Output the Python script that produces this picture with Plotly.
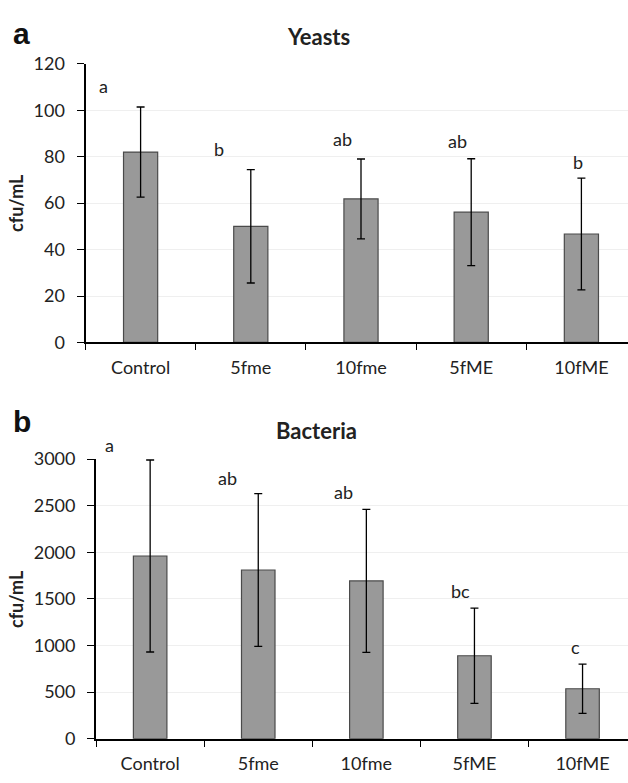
import plotly.graph_objects as go

# ---- data ----
categories = ["Control", "5fme", "10fme", "5fME", "10fME"]

yeast_mean = [82, 50, 61.8, 56.1, 46.7]
yeast_sd = [19.4, 24.4, 17.2, 23.0, 24.1]
yeast_letters = ["a", "b", "ab", "ab", "b"]

bact_mean = [1960, 1810, 1693, 890, 536]
bact_sd = [1030, 820, 767, 510, 265]
bact_letters = ["a", "ab", "ab", "bc", "c"]

yeast_ticks = [0, 20, 40, 60, 80, 100, 120]
bact_ticks = [0, 500, 1000, 1500, 2000, 2500, 3000]

# ---- layout helpers ----
W, H = 628, 783
FONT = "Lato"
TXT = "#222222"
TICK_SIZE = 18

# letter label placement (pixel shifts relative to error-bar top)
yeast_lab_dx = [-37, -32, -19, -14, -3]
yeast_lab_dy = [21, 21, 20, 18, 16]
bact_lab_dx = [-41, -31, -23, -14, -7]
bact_lab_dy = [15, 16, 17, 17, 17]

fig = go.Figure()

def add_bars(mean, sd, xa, ya):
    fig.add_trace(go.Bar(
        x=categories, y=mean, width=0.31,
        marker=dict(color="#999999", line=dict(color="#4a4a4a", width=1.2)),
        error_y=dict(type="data", array=sd, visible=True, color="black",
                     thickness=1.3, width=4),
        xaxis=xa, yaxis=ya, showlegend=False, hoverinfo="skip"))

add_bars(yeast_mean, yeast_sd, "x", "y")
add_bars(bact_mean, bact_sd, "x2", "y2")

top_left, bot_left = 85.5, 96.1
top_cat, bot_cat = 110.2, 108.1

xcommon = dict(type="category", showline=True, linecolor="black", linewidth=2,
               ticks="outside", tickson="boundaries", ticklen=6, tickwidth=1.3,
               tickcolor="black", showgrid=False, zeroline=False,
               tickfont=dict(family=FONT, size=TICK_SIZE, color=TXT),
               ticklabelstandoff=8, fixedrange=True)
ycommon = dict(showline=True, linecolor="black", linewidth=2, ticks="outside",
               ticklen=7, tickwidth=1.3, tickcolor="black", showgrid=True,
               gridcolor="#efefef", gridwidth=1, zeroline=False,
               tickfont=dict(family=FONT, size=TICK_SIZE, color=TXT),
               ticklabelstandoff=8)

fig.update_layout(
    width=W, height=H,
    margin=dict(l=0, r=0, t=0, b=0),
    paper_bgcolor="white", plot_bgcolor="white",
    bargap=0.69, showlegend=False,
    xaxis=dict(domain=[top_left / W, 1], anchor="y",
               range=[-0.5, -0.5 + (W - top_left) / top_cat],
               categoryorder="array", categoryarray=categories, **xcommon),
    yaxis=dict(domain=[1 - 340 / H, 1 - 53.3 / H], anchor="x",
               range=[0, 120], tickvals=yeast_ticks, **ycommon),
    xaxis2=dict(domain=[bot_left / W, 1], anchor="y2",
                range=[-0.5, -0.5 + (W - bot_left) / bot_cat],
                categoryorder="array", categoryarray=categories, **xcommon),
    yaxis2=dict(domain=[1 - 747.7 / H, 1 - 460 / H], anchor="x2",
                range=[0, 3000], tickvals=bact_ticks, **ycommon),
)

ann = []
# panel letters
ann.append(dict(text="<b>a</b>", x=21 / W, y=1 - 22 / H, xref="paper", yref="paper",
                showarrow=False, font=dict(family="Liberation Sans", size=30, color="#111111"),
                xanchor="center", yanchor="middle"))
ann.append(dict(text="<b>b</b>", x=22 / W, y=1 - 421 / H, xref="paper", yref="paper",
                showarrow=False, font=dict(family="Liberation Sans", size=30, color="#111111"),
                xanchor="center", yanchor="middle"))
# titles
ann.append(dict(text="<b>Yeasts</b>", x=318.5 / W, y=1 - 25 / H, xref="paper", yref="paper",
                showarrow=False, font=dict(family=FONT, size=22, color=TXT),
                xanchor="center", yanchor="middle"))
ann.append(dict(text="<b>Bacteria</b>", x=316 / W, y=1 - 430.5 / H, xref="paper", yref="paper",
                showarrow=False, font=dict(family=FONT, size=22, color=TXT),
                xanchor="center", yanchor="middle"))
# y titles
for yc in (196.5, 604):
    ann.append(dict(text="<b>cfu/mL</b>", x=16 / W, y=1 - yc / H, xref="paper", yref="paper",
                    showarrow=False, textangle=-90,
                    font=dict(family=FONT, size=18, color=TXT),
                    xanchor="center", yanchor="middle"))
# significance letters
for cat, m, s, lab, dx, dy in zip(categories, yeast_mean, yeast_sd, yeast_letters,
                                  yeast_lab_dx, yeast_lab_dy):
    ann.append(dict(text=lab, x=cat, y=m + s, xref="x", yref="y", showarrow=False,
                    xshift=dx, yshift=dy, xanchor="center", yanchor="middle",
                    font=dict(family=FONT, size=TICK_SIZE, color=TXT)))
for cat, m, s, lab, dx, dy in zip(categories, bact_mean, bact_sd, bact_letters,
                                  bact_lab_dx, bact_lab_dy):
    ann.append(dict(text=lab, x=cat, y=m + s, xref="x2", yref="y2", showarrow=False,
                    xshift=dx, yshift=dy, xanchor="center", yanchor="middle",
                    font=dict(family=FONT, size=TICK_SIZE, color=TXT)))

fig.update_layout(annotations=ann)
fig.write_html("out.html")
